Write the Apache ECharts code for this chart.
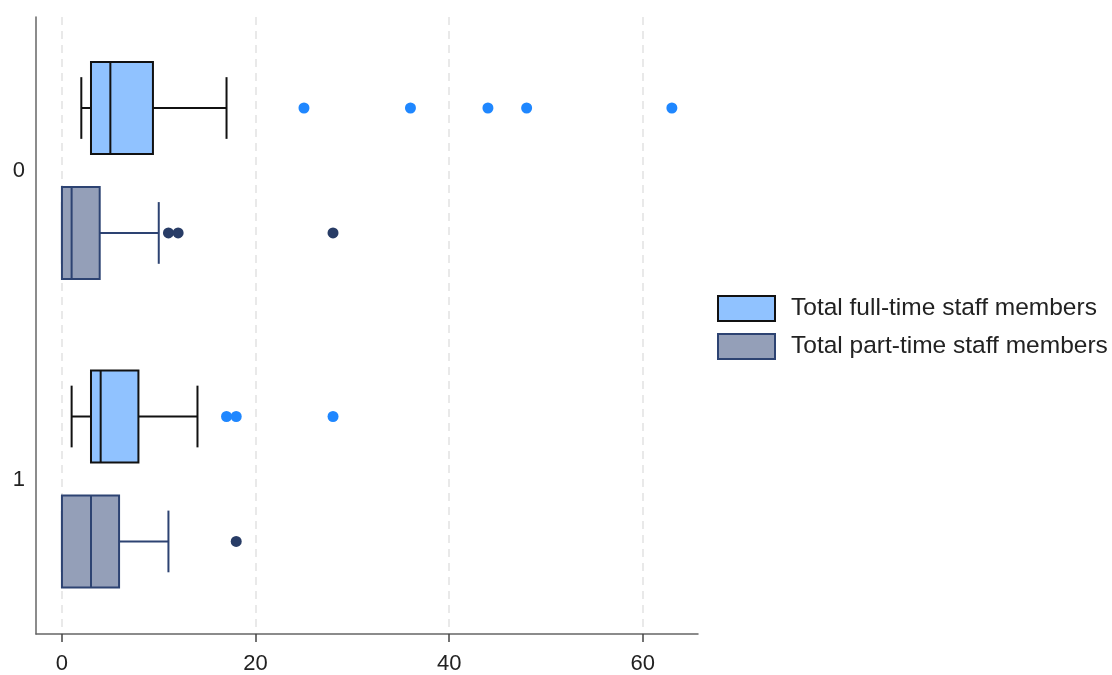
<!DOCTYPE html>
<html>
<head>
<meta charset="utf-8">
<script src="https://cdn.jsdelivr.net/npm/echarts@6/dist/echarts.min.js"></script>
<style>html,body{margin:0;padding:0;background:#fff}#c{width:1112px;height:675px}</style>
</head>
<body>
<div id="c"></div>
<script>
// ---- data ----
const categories = ['0', '1'];
const xTicks = [0, 20, 40, 60];
const seriesNames = ['Total full-time staff members', 'Total part-time staff members'];
// [low whisker, Q1, median, Q3, high whisker] per category
const fullStats = [[2, 3, 5, 9.4, 17], [1, 3, 4, 7.9, 14]];
const partStats = [[0, 0, 1, 3.9, 10], [0, 0, 3, 5.9, 11]];
// outliers per category
const fullOutliers = [[25, 36, 44, 48, 63], [17, 18, 28]];
const partOutliers = [[11, 12, 28], [18]];

// ---- styles ----
const FULL = {fill: '#90C2FF', stroke: '#111111', dot: '#1F87FF', off: -0.205};
const PART = {fill: '#949FB8', stroke: '#2D4372', dot: '#283C66', off: 0.2};
const BOX_HALF = 0.149, CAP_HALF = 0.10;
const FONT = 'Liberation Sans, Arial, sans-serif';

function boxData(stats) { return stats.map((s, i) => [i].concat(s)); }
function outData(outs) {
  const d = [];
  outs.forEach((arr, i) => arr.forEach(v => d.push([v, i])));
  return d;
}

function boxRender(st) {
  return function (params, api) {
    const cat = api.value(0);
    const band = api.size([0, 1])[1];
    const cy = api.coord([0, cat])[1] + st.off * band;
    const hh = band * BOX_HALF, ch = band * CAP_HALF;
    const X = v => api.coord([api.value(v), cat])[0];
    const lo = X(1), q1 = X(2), md = X(3), q3 = X(4), hi = X(5);
    const ls = {stroke: st.stroke, lineWidth: 2};
    return {
      type: 'group',
      children: [
        {type: 'line', shape: {x1: lo, y1: cy, x2: q1, y2: cy}, style: ls},
        {type: 'line', shape: {x1: q3, y1: cy, x2: hi, y2: cy}, style: ls},
        {type: 'line', shape: {x1: lo, y1: cy - ch, x2: lo, y2: cy + ch}, style: ls},
        {type: 'line', shape: {x1: hi, y1: cy - ch, x2: hi, y2: cy + ch}, style: ls},
        {type: 'rect', shape: {x: q1, y: cy - hh, width: q3 - q1, height: 2 * hh},
          style: {fill: st.fill, stroke: st.stroke, lineWidth: 2}},
        {type: 'line', shape: {x1: md, y1: cy - hh, x2: md, y2: cy + hh}, style: ls}
      ]
    };
  };
}
function dotRender(st) {
  return function (params, api) {
    const cat = api.value(1);
    const band = api.size([0, 1])[1];
    const p = api.coord([api.value(0), cat]);
    return {type: 'circle', shape: {cx: p[0], cy: p[1] + st.off * band, r: 5.5},
      style: {fill: st.dot}};
  };
}

const chart = echarts.init(document.getElementById('c'));
chart.setOption({
  animation: false,
  grid: {left: 36, right: 414, top: 17, bottom: 40, containLabel: false},
  xAxis: {
    type: 'value', min: -2.68, max: 65.7,
    axisLine: {show: true, onZero: false, lineStyle: {color: '#666', width: 1.5}},
    axisTick: {show: true, length: 8, lineStyle: {color: '#444', width: 1.5},
      customValues: xTicks},
    axisLabel: {customValues: xTicks, fontSize: 22, color: '#222', margin: 19, fontFamily: FONT},
    splitLine: {show: true, lineStyle: {color: '#e2e2e2', type: [8, 6], width: 1.5}},
    interval: 20
  },
  yAxis: {
    type: 'category', data: categories, inverse: true,
    axisLine: {show: true, onZero: false, lineStyle: {color: '#666', width: 1.5}},
    axisTick: {show: false},
    axisLabel: {fontSize: 22, color: '#222', margin: 11, fontFamily: FONT},
    splitLine: {show: false}
  },
  legend: {
    left: 712, top: 290, orient: 'vertical', itemWidth: 57, itemHeight: 25, itemGap: 11,
    textStyle: {fontSize: 24.5, color: '#222', fontFamily: FONT, padding: [0, 0, 0, 11]},
    data: [
      {name: seriesNames[0], icon: 'rect', itemStyle: {color: FULL.fill, borderColor: FULL.stroke, borderWidth: 2}},
      {name: seriesNames[1], icon: 'rect', itemStyle: {color: PART.fill, borderColor: PART.stroke, borderWidth: 2}}
    ]
  },
  series: [
    {name: seriesNames[0], type: 'custom', data: boxData(fullStats), renderItem: boxRender(FULL),
      encode: {y: 0, x: [1, 2, 3, 4, 5]}, itemStyle: {color: FULL.fill}},
    {name: seriesNames[1], type: 'custom', data: boxData(partStats), renderItem: boxRender(PART),
      encode: {y: 0, x: [1, 2, 3, 4, 5]}, itemStyle: {color: PART.fill}},
    {name: seriesNames[0], type: 'custom', data: outData(fullOutliers), renderItem: dotRender(FULL),
      encode: {x: 0, y: 1}, itemStyle: {color: FULL.fill}, z: 5},
    {name: seriesNames[1], type: 'custom', data: outData(partOutliers), renderItem: dotRender(PART),
      encode: {x: 0, y: 1}, itemStyle: {color: PART.fill}, z: 5}
  ]
});
</script>
</body>
</html>
